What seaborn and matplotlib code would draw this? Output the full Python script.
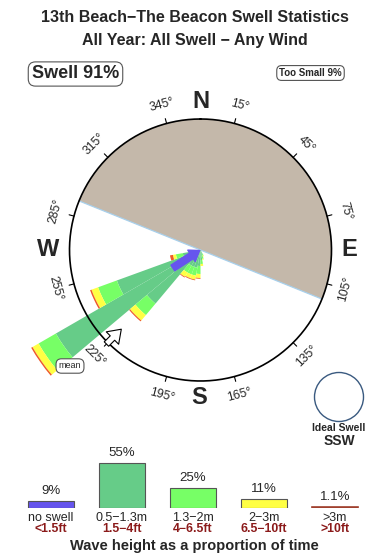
import numpy as np
import matplotlib
matplotlib.use('Agg')
import matplotlib.pyplot as plt
import seaborn as sns

sns.set_theme(style='white')
plt.rcParams['font.family'] = ['Liberation Sans', 'DejaVu Sans']

# ---------------- data ----------------
directions = [155, 165, 175, 185, 195, 205, 215, 225, 235, 245, 255, 265]
len_05_13 = [4, 6, 10, 16, 18, 18, 18, 70, 167, 89, 18, 6]
len_13_2 = [2, 3, 4, 8, 8, 8, 8, 15, 20, 20, 7, 3]
len_2_3 = [1, 1, 2, 4, 4, 4, 5, 7, 7, 7, 3, 1]
len_3p = [0, 0, 0, 0.8, 0.8, 0.8, 0.8, 1.2, 1.5, 1.5, 3, 0]
noswell_dir = 237
noswell_len = 33
land_from, land_to = 292, 112
mean_dir = 225
deg_ticks = [15, 45, 75, 105, 135, 165, 195, 225, 255, 285, 315, 345]

classes = ['no swell', '0.5\u22121.3m', '1.3\u22122m', '2\u22123m', '>3m']
feet = ['<1.5ft', '1.5\u22124ft', '4\u22126.5ft', '6.5\u221210ft', '>10ft']
share = [9, 55, 25, 11, 1.1]
share_lbl = ['9%', '55%', '25%', '11%', '1.1%']
colors = ['#6655EE', '#66CC88', '#77FF66', '#FFFF44', '#A0402E']
rose_red = '#EE5A2A'
land_color = '#C4B8AA'

title1 = '13th Beach\u2212The Beacon Swell Statistics'
title2 = 'All Year: All Swell \u2212 Any Wind'

# ---------------- figure ----------------
W, H = 390, 560
fig = plt.figure(figsize=(W / 100, H / 100), dpi=100)
fig.patch.set_facecolor('white')

cx, cy, R = 200.5, 250, 131
Rmax = 200
pax = fig.add_axes([(cx - Rmax) / W, (H - cy - Rmax) / H, 2 * Rmax / W, 2 * Rmax / H],
                   projection='polar')
pax.set_theta_zero_location('N')
pax.set_theta_direction(-1)
pax.set_ylim(0, Rmax)
pax.axis('off')

# land half disc
span = (land_to - land_from) % 360
pax.bar(np.deg2rad(land_from + span / 2), R, width=np.deg2rad(span), bottom=0,
        color=land_color, linewidth=0, zorder=1)
for a in (land_from, land_to):
    pax.plot([np.deg2rad(a)] * 2, [0, R], color='#a8d0ec', lw=0.9, zorder=2)

# rose bars (stacked)
th = np.deg2rad(directions)
bottom = np.zeros(len(directions))
for vals, col in zip([len_05_13, len_13_2, len_2_3, len_3p], colors[1:4] + [rose_red]):
    v = np.array(vals, dtype=float)
    pax.bar(th, v, width=np.deg2rad(10), bottom=bottom, color=col,
            linewidth=0, zorder=3)
    bottom += v

# no swell arrow
pax.annotate('', xy=(np.deg2rad(noswell_dir), 1), xytext=(np.deg2rad(noswell_dir), noswell_len),
             arrowprops=dict(arrowstyle='simple,head_width=1.4,head_length=1.0,tail_width=0.7',
                             color=colors[0], mutation_scale=7, shrinkA=0, shrinkB=0), zorder=4)

# circle
tt = np.linspace(0, 2 * np.pi, 400)
pax.plot(tt, np.full_like(tt, R), color='black', lw=1.2, zorder=5)

# mean arrow
pax.annotate('', xy=(np.deg2rad(mean_dir), 112), xytext=(np.deg2rad(mean_dir), 133),
             arrowprops=dict(arrowstyle='simple,head_width=1.4,head_length=1.0,tail_width=0.5',
                             fc='white', ec='black', lw=0.8, mutation_scale=9,
                             shrinkA=0, shrinkB=0), zorder=6)

# degree ticks & labels
for d in deg_ticks:
    a = np.deg2rad(d)
    pax.plot([a, a], [R, R + 5], color='black', lw=0.8, zorder=5)
    rot = -d
    while rot < -90:
        rot += 180
    while rot > 90:
        rot -= 180
    pax.text(a, 150, f'{d}\u00b0', rotation=rot, rotation_mode='anchor',
             ha='center', va='center', fontsize=8.8, zorder=6)

# ---------------- overlay text axes ----------------
ov = fig.add_axes([0, 0, 1, 1])
ov.set_xlim(0, W)
ov.set_ylim(H, 0)
ov.axis('off')
ov.patch.set_alpha(0)

ov.text(195, 17, title1, ha='center', va='center', fontsize=11.5, fontweight='bold')
ov.text(195, 40, title2, ha='center', va='center', fontsize=11.5, fontweight='bold')
ov.text(75.5, 74, 'Swell 91%', ha='center', va='center', fontsize=13, fontweight='bold',
        bbox=dict(boxstyle='round,pad=0.2,rounding_size=0.4', fc='white', ec='#555555', lw=0.8))
ov.text(310.5, 73, 'Too Small 9%', ha='center', va='center', fontsize=7, fontweight='bold',
        bbox=dict(boxstyle='round,pad=0.25,rounding_size=0.5', fc='white', ec='#555555', lw=0.8))

for lbl, x, y in [('N', 201, 102), ('W', 48, 250), ('E', 349, 250), ('S', 199, 398)]:
    ov.text(x, y, lbl, ha='center', va='center', fontsize=17, fontweight='bold')

ov.text(70, 366, 'mean', ha='center', va='center', fontsize=6.5,
        bbox=dict(boxstyle='round,pad=0.3,rounding_size=0.6', fc='white', ec='#555555', lw=0.8))

circ = plt.Circle((339, 397), 24.5, fill=False, ec='#3a5a80', lw=1.0)
ov.add_patch(circ)
ov.text(339, 428, 'Ideal Swell', ha='center', va='center', fontsize=7.5, fontweight='bold')
ov.text(339, 441, 'SSW', ha='center', va='center', fontsize=10, fontweight='bold')

# ---------------- legend bar chart (seaborn) ----------------
pxp = 0.818  # px per percent
base_y = 508.3
lax = fig.add_axes([15.5 / W, (H - base_y) / H, 355 / W, 60 * pxp / H])
sns.barplot(x=classes, y=share, hue=classes, palette=colors, legend=False,
            width=0.634, saturation=1, ax=lax, edgecolor='#555555', linewidth=0.8)
lax.patches[-1].set_edgecolor(colors[-1])
lax.patches[-1].set_linewidth(1.2)
lax.set_xlim(-0.5, 4.5)
lax.set_ylim(0, 60)
lax.axis('off')
for i, (v, s) in enumerate(zip(share, share_lbl)):
    lax.annotate(s, xy=(i, v), xytext=(0, 3), textcoords='offset points',
                 ha='center', va='bottom', fontsize=9.5)
    ov.text(51 + 71 * i, 518, classes[i], ha='center', va='center', fontsize=9)
    ov.text(51 + 71 * i, 529.5, feet[i], ha='center', va='center', fontsize=8.8,
            fontweight='bold', color='#8B1A1A')

ov.text(194, 546, 'Wave height as a proportion of time', ha='center', va='center',
        fontsize=10.5, fontweight='bold')

fig.savefig('out.png', dpi=100)
